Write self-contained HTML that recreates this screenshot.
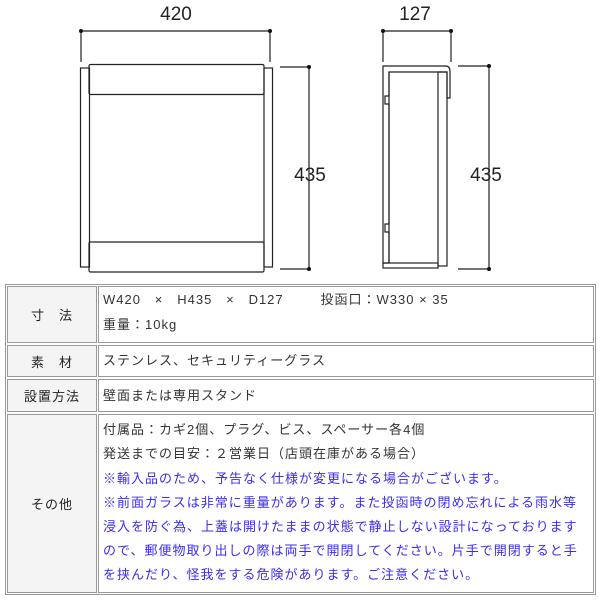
<!DOCTYPE html>
<html><head><meta charset="utf-8"><style>
body{margin:0;width:600px;height:600px;background:#fff;position:relative;overflow:hidden;font-family:"Liberation Sans","Noto Sans CJK JP",sans-serif}
.c{position:absolute;border:1px solid #999;box-sizing:border-box}
.l{background:#f4f4f4;display:flex;align-items:center;justify-content:center;font-size:13px;color:#222;letter-spacing:1px}
.t{position:absolute;font-size:13px;color:#333;white-space:nowrap;line-height:16px;letter-spacing:1px}
.b{color:#3a2cf0}
</style></head><body>
<svg width="600" height="285" style="position:absolute;left:0;top:0" font-family="Liberation Sans, sans-serif">
<g stroke="#222" stroke-width="1.2" fill="none">
<line x1="81" y1="31" x2="270" y2="31"/><line x1="81" y1="31" x2="81" y2="62"/><line x1="270" y1="31" x2="270" y2="62"/>
<rect x="80.5" y="68" width="9" height="199"/><rect x="264" y="68" width="8.5" height="199"/>
<rect x="89" y="64.5" width="175" height="30" rx="1.5"/><rect x="89" y="242" width="175" height="30" rx="1.5"/>
<line x1="280" y1="67" x2="309" y2="67"/><line x1="280" y1="269" x2="309" y2="269"/><line x1="309" y1="67" x2="309" y2="269"/>
<line x1="383" y1="31" x2="451" y2="31"/><line x1="383" y1="31" x2="383" y2="62"/><line x1="451" y1="31" x2="451" y2="62"/>
<path d="M383 66 H446 Q450 66 450 72 V98 H447 V72 H389 V96 H385 V104 H389 V224 H385 V232 H389 V263 H383 Z"/>
<line x1="389" y1="72" x2="389" y2="263"/>
<rect x="438" y="72" width="9" height="194"/>
<rect x="383" y="263" width="55" height="5"/>
<line x1="458" y1="66" x2="489" y2="66"/><line x1="458" y1="269" x2="489" y2="269"/><line x1="489" y1="66" x2="489" y2="269"/>
</g>
<g fill="#111">
<circle cx="81" cy="31" r="2"/><circle cx="270" cy="31" r="2"/><circle cx="309" cy="67" r="2"/><circle cx="309" cy="269" r="2"/>
<circle cx="383" cy="31" r="2"/><circle cx="451" cy="31" r="2"/><circle cx="489" cy="66" r="2"/><circle cx="489" cy="269" r="2"/>
</g>
<g fill="#222" font-size="19" text-anchor="middle">
<text x="176" y="20">420</text><text x="310" y="181">435</text>
<text x="415" y="20">127</text><text x="486" y="181">435</text>
</g>
</svg>
<div class="c" style="left:5px;top:284px;width:591px;height:311px"></div>
<div class="c l" style="left:7px;top:286px;width:90px;height:57px">寸　法</div>
<div class="c" style="left:98px;top:286px;width:496px;height:57px"></div>
<div class="c l" style="left:7px;top:345px;width:90px;height:32px">素　材</div>
<div class="c" style="left:98px;top:345px;width:496px;height:32px"></div>
<div class="c l" style="left:7px;top:379px;width:90px;height:33px">設置方法</div>
<div class="c" style="left:98px;top:379px;width:496px;height:33px"></div>
<div class="c l" style="left:7px;top:414px;width:90px;height:179px">その他</div>
<div class="c" style="left:98px;top:414px;width:496px;height:179px"></div>
<div class="t" style="left:103px;top:292px">W420 &nbsp; × &nbsp; H435 &nbsp; × &nbsp; D127 &nbsp; &nbsp; &nbsp; &nbsp;投函口：W330 × 35</div>
<div class="t" style="left:103px;top:317px">重量：10kg</div>
<div class="t" style="left:103px;top:353px">ステンレス、セキュリティーグラス</div>
<div class="t" style="left:103px;top:388px">壁面または専用スタンド</div>
<div class="t" style="left:103px;top:422px">付属品：カギ2個、プラグ、ビス、スペーサー各4個</div>
<div class="t" style="left:103px;top:446px">発送までの目安：２営業日（店頭在庫がある場合）</div>
<div class="t b" style="left:103px;top:471px">※輸入品のため、予告なく仕様が変更になる場合がございます。</div>
<div class="t b" style="left:103px;top:495px">※前面ガラスは非常に重量があります。また投函時の閉め忘れによる雨水等</div>
<div class="t b" style="left:103px;top:519px">浸入を防ぐ為、上蓋は開けたままの状態で静止しない設計になっております</div>
<div class="t b" style="left:103px;top:543px">ので、郵便物取り出しの際は両手で開閉してください。片手で開閉すると手</div>
<div class="t b" style="left:103px;top:567px">を挟んだり、怪我をする危険があります。ご注意ください。</div>
</body></html>
